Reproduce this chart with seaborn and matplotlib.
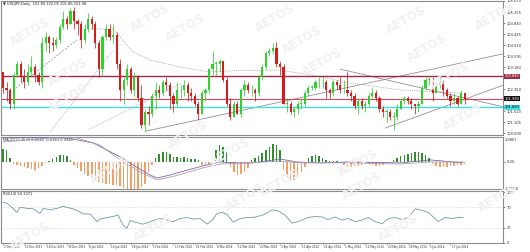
import matplotlib
matplotlib.use("Agg")
import matplotlib.pyplot as plt
import seaborn as sns
import numpy as np
import pandas as pd

sns.set_theme(style="white")
plt.rcParams['font.family'] = ['DejaVu Sans']

# ---------------- data ----------------
opens = [103.0,102.4,102.3,101.8,102.9,103.3,102.8,102.6,103.0,103.2,102.9,102.6,104.1,104.3,104.1,104.0,104.2,104.7,105.0,104.8,
         105.3,104.9,104.8,104.2,104.6,105.0,104.8,104.1,103.1,104.3,104.6,104.3,104.4,103.3,102.3,102.7,103.1,102.3,102.8,102.0,
         101.0,101.5,101.4,102.1,102.3,102.2,102.6,102.5,102.1,101.8,102.3,102.3,102.5,102.2,102.1,101.8,101.4,102.2,102.3,103.1,
         103.3,103.3,103.4,102.7,101.8,101.3,101.8,101.4,102.3,102.5,102.3,102.3,102.2,102.8,103.2,103.7,103.8,103.9,103.3,103.2,
         101.8,101.8,101.5,101.6,101.8,101.8,102.2,102.4,102.4,102.6,102.6,102.6,102.3,102.2,102.6,102.5,102.3,102.3,102.2,102.1,
         101.7,101.9,101.7,101.8,102.1,102.2,102.0,101.6,101.5,101.5,101.3,101.3,101.6,101.9,102.0,101.9,101.8,101.7,101.8,102.4,
         102.7,102.7,102.2,102.5,102.6,102.3,102.1,101.9,102.0,101.8,102.2]
highs = [103.0,102.6,102.4,103.0,103.4,103.4,103.1,103.3,103.6,103.3,103.0,104.3,104.5,104.4,104.3,104.3,104.8,105.3,105.1,105.4,
         105.44,105.0,104.9,104.8,105.2,105.1,104.9,104.2,104.4,104.8,104.8,104.8,104.5,103.5,102.8,103.3,103.2,103.0,102.9,102.5,
         101.6,101.7,102.2,102.6,102.5,102.7,102.8,102.6,102.2,102.6,102.5,102.7,102.6,102.4,102.2,101.9,102.3,102.4,103.1,103.8,
         103.4,103.5,103.4,102.8,102.0,101.9,101.9,102.4,102.7,102.6,102.5,102.4,102.9,103.3,103.8,103.9,104.1,104.13,103.4,103.3,
         102.0,101.9,101.7,101.9,102.0,102.3,102.5,102.5,102.7,102.8,102.8,102.7,102.4,102.7,102.7,102.8,102.7,103.0,102.3,102.2,
         102.0,102.0,101.9,102.2,102.4,102.3,102.1,101.7,101.6,101.6,101.5,101.8,102.0,102.1,102.1,102.0,101.8,101.9,102.5,102.8,
         102.8,102.8,102.6,102.8,102.7,102.4,102.2,102.2,102.1,102.3,102.2]
lows = [102.2,101.9,101.6,101.6,102.8,102.6,102.4,102.5,102.9,102.6,102.5,102.4,103.8,103.7,103.8,103.9,104.1,104.6,104.6,104.8,
        104.6,104.4,103.9,104.1,104.5,104.6,103.9,102.8,102.9,104.2,104.2,104.1,103.1,101.9,101.8,102.5,102.2,102.1,101.9,100.9,
        100.76,101.0,101.3,101.6,102.0,102.1,102.3,101.6,101.5,101.7,102.0,102.1,101.9,101.9,101.7,101.2,101.4,101.9,102.2,102.9,
        102.9,103.0,102.6,101.7,101.2,101.3,101.4,101.3,102.1,102.2,102.1,101.9,102.1,102.7,103.1,103.6,103.7,103.2,102.9,101.8,
        101.5,101.4,101.3,101.4,101.6,101.7,102.1,102.3,102.3,102.4,102.4,102.0,102.0,102.1,102.3,102.2,102.2,102.1,101.9,101.6,
        101.4,101.6,101.5,101.7,102.0,101.9,101.5,101.3,101.1,101.2,100.82,101.2,101.6,101.8,101.8,101.6,101.4,101.5,101.8,102.3,
        102.5,101.9,102.2,102.4,102.1,102.0,101.7,101.8,101.7,101.8,101.8]
closes = [102.4,102.3,101.8,102.9,103.3,102.8,102.6,103.0,103.2,102.9,102.6,104.1,104.3,104.1,104.0,104.2,104.7,105.0,104.8,105.3,
          104.9,104.8,104.2,104.6,105.0,104.8,104.1,103.1,104.3,104.6,104.3,104.4,103.3,102.3,102.7,103.1,102.3,102.8,102.0,101.0,
          101.5,101.4,102.1,102.3,102.2,102.6,102.5,102.1,101.8,102.3,102.3,102.5,102.2,102.1,101.8,101.4,102.2,102.3,103.1,103.3,
          103.3,103.4,102.7,101.8,101.3,101.8,101.4,102.3,102.5,102.3,102.3,102.2,102.8,103.2,103.7,103.8,103.9,103.3,103.2,101.8,
          101.8,101.5,101.6,101.8,101.8,102.2,102.4,102.4,102.6,102.6,102.6,102.3,102.2,102.6,102.5,102.3,102.3,102.2,102.1,101.7,
          101.9,101.7,101.8,102.1,102.2,102.0,101.6,101.5,101.5,101.3,101.3,101.6,101.9,102.0,101.9,101.8,101.7,101.8,102.4,102.7,
          102.7,102.2,102.5,102.6,102.3,102.1,101.9,102.0,101.8,102.2,101.98]

date_labels = ["2 Dec 2013", "10 Dec 2013", "18 Dec 2013", "30 Dec 2013", "8 Jan 2014", "16 Jan 2014",
               "28 Jan 2014", "5 Feb 2014", "13 Feb 2014", "21 Feb 2014", "4 Mar 2014", "12 Mar 2014",
               "20 Mar 2014", "3 Apr 2014", "11 Apr 2014", "22 Apr 2014", "1 May 2014", "12 May 2014",
               "20 May 2014", "28 May 2014", "5 Jun 2014", "17 Jun 2014"]

price_ticks = [105.670, 105.255, 104.840, 104.425, 104.010, 103.595, 103.180, 102.765,
               102.350, 101.935, 101.520, 101.105, 100.690]
levels = {"resistance": 102.84, "bid": 101.98, "support": 101.66}
level_colors = {"resistance": "#9e2a45", "bid": "#d94660", "support": "#3fe0e0"}

# trend lines: (bar, price) anchor pairs, drawn from the first anchor to the right edge
trend_lines = [((40, 100.76), (97.7, 102.43)),
               ((107.6, 100.88), (144.8, 102.69)),
               ((95.0, 103.10), (148.4, 101.45))]

# fan segments (dotted / dashed): (bar, price) start and end
fan_segments = [((2.8, 102.31), (20.8, 104.20), "dashed"),
                ((13.2, 100.73), (31.0, 103.80), "dotted"),
                ((23.9, 100.81), (50.0, 102.55), "dotted")]

# slow moving-average (dotted) points
ma_bar = [23.7, 31.0, 32.1, 36.6, 41.4, 49.9, 58.3, 66.0, 78.0, 88.0, 97.7, 111.8, 128.7]
ma_val = [104.61, 104.61, 104.46, 103.75, 103.45, 103.18, 103.00, 103.05, 103.07, 102.85, 102.58, 102.32, 102.20]

# MACD histogram values per bar
macd_hist = [0.57,0.53,0.18,-0.09,-0.13,-0.18,-0.22,-0.26,-0.31,-0.35,-0.26,-0.18,-0.04,0.04,0.13,0.22,0.31,0.31,0.26,0.09,
             -0.13,-0.26,-0.40,-0.53,-0.62,-0.70,-0.79,-0.88,-0.92,-0.97,-0.97,-1.01,-1.01,-1.06,-1.14,-1.19,-1.23,-1.23,-1.19,-1.10,
             -0.97,-0.44,-0.13,0.18,0.35,0.44,0.44,0.35,0.22,0.22,0.18,0.22,0.18,0.13,0.13,0.09,-0.13,-0.13,-0.09,0.26,
             0.53,0.75,0.66,0.44,-0.22,-0.44,-0.57,-0.53,-0.44,-0.26,0.09,0.18,0.26,0.40,0.53,0.66,0.79,0.75,0.53,-0.35,
             -0.66,-0.79,-0.79,-0.66,-0.44,-0.22,0.18,0.26,0.31,0.26,0.18,0.09,0.04,0.04,0.04,0.0,-0.13,-0.22,-0.22,-0.18,
             -0.18,-0.13,-0.09,-0.09,-0.13,-0.18,-0.18,-0.13,-0.09,-0.04,0.09,0.18,0.26,0.31,0.35,0.40,0.44,0.44,0.40,0.31,
             0.18,-0.09,-0.18,-0.22,-0.22,-0.22,-0.18,-0.18,-0.13,-0.13,-0.09]
macd_a_bar = [0,18,25.4,33,36.6,41.4,43.4,47,49.9,56.3,61.1,65.9,70.4,78,82.8,89.3,97.7,111.8,120.3,129.6]
macd_a_val = [1.09,1.05,0.83,0.22,-0.13,-0.57,-0.70,-0.57,-0.44,-0.17,0.0,-0.04,-0.04,0.13,0.0,-0.04,0.0,-0.04,0.09,-0.04]
macd_b_bar = [0,13.2,20.8,27.3,33,38.6,43.4,48.5,56.3,61.1,69.6,78,83.7,97.7,111.8,120.3,129.6]
macd_b_val = [0.87,1.05,1.05,0.74,0.09,-0.44,-0.78,-0.61,-0.26,-0.09,-0.04,0.04,-0.04,-0.04,-0.09,0.0,0.0]

rsi_bar = [0,1.1,2.8,3.9,4.8,6.8,8.5,10.4,11.3,13.2,15.2,16.9,18,19.7,21.7,22.5,24.5,26.5,27.3,29.3,31,32.4,33.8,34.9,35.8,
           37.7,39.4,40.8,42.3,44.2,46.2,47.9,49.9,51.8,53.5,55.5,57.5,58.9,60.3,61.7,63.1,64.8,66.8,68.7,70.4,73.2,74.6,75.8,
           77.5,79.4,81.4,83.1,85.9,87.9,89.9,91.5,93.5,95.5,97.2,99.2,101.1,102.8,104.8,106.8,108.5,110.4,112.4,114.1,116.1,
           118,119.7,121.7,122.5,124.5,126.5,128.2,129.6]
rsi_val = [80,78,68,60,70,68,67,58,68,65,68,72,70,67,61,57,57,42,47,50,52,55,35,29,44,40,37,40,44,48,45,42,48,50,47,48,37,
           45,58,60,56,41,48,50,50,55,60,65,63,55,39,42,50,52,51,46,51,45,48,42,45,50,42,38,48,50,46,50,67,64,60,48,42,50,48,50,50]

# ---------------- figure ----------------
W, H = 530, 252
fig = plt.figure(figsize=(W / 100, H / 100), dpi=100)
fig.patch.set_facecolor("white")
L, Wd = 1 / W, 502 / W
ax = fig.add_axes([L, 1 - 135 / H, Wd, 134 / H])
axm = fig.add_axes([L, 1 - 189 / H, Wd, 52 / H])
axr = fig.add_axes([L, 1 - 243 / H, Wd, 52 / H])

N = len(closes)
idx = np.arange(N)
XL = (-0.56, 140.8)

# faint watermarks
wm_pos = [(30, 32), (150, 18), (68, 72), (185, 28), (275, 18), (302, 40), (322, 62), (406, 20), (427, 48),
          (450, 76), (495, 16), (68, 98), (188, 135), (230, 152), (463, 117), (358, 163), (30, 236),
          (153, 228), (245, 197), (280, 183), (362, 186), (398, 228), (498, 198), (110, 170)]
for (px, py) in wm_pos:
    fig.text(px / W, 1 - py / H, "AETOS", fontsize=8.5, fontweight="bold", color="#f1f1f1",
             rotation=30, ha="center", va="center", zorder=0)

for a in (ax, axm, axr):
    a.set_facecolor("none")
    a.set_xlim(*XL)
    a.set_xticks([])
    a.yaxis.tick_right()
    a.tick_params(axis="y", labelsize=2.6, colors="#333333", length=1.5, width=0.4, pad=1)
    for s in a.spines.values():
        s.set_color("#8c8c8c")
        s.set_linewidth(0.8)

# ---- main panel ----
o = np.array(opens); c = np.array(closes); hi = np.array(highs); lo = np.array(lows)
bull = c >= o
col = np.where(bull, "#2fd12f", "#d71c1c")
ax.vlines(idx, lo, hi, colors=col, linewidth=0.55, zorder=3)
body = np.maximum(np.abs(c - o), 0.025)
ax.bar(idx, body, bottom=np.minimum(o, c), width=0.62, color=col, linewidth=0, zorder=4)

for (b0, p0), (b1, p1) in trend_lines:
    slope = (p1 - p0) / (b1 - b0)
    xe = XL[1]
    ax.plot([b0, xe], [p0, p0 + slope * (xe - b0)], color="#9a8c9a", lw=0.6, zorder=2)
for (b0, p0), (b1, p1), style in fan_segments:
    ls = (0, (3, 2)) if style == "dashed" else (0, (1, 1.5))
    ax.plot([b0, b1], [p0, p1], color="#8a8a8a", lw=0.5, ls=ls, zorder=2)
sns.lineplot(x=ma_bar, y=ma_val, ax=ax, color="#8a8a8a", lw=0.55, linestyle=(0, (1, 1.5)), zorder=2)
for k, v in levels.items():
    ax.axhline(v, color=level_colors[k], lw=1.0 if k != "bid" else 0.8, zorder=2)

ax.set_ylim(100.62, 105.67)
ax.set_xlim(*XL)
ax.set_ylabel("")
shown = [t for t in price_ticks if min(abs(t - v) for v in levels.values()) > 0.12]
ax.set_yticks(shown)
ax.set_yticklabels([f"{t:.3f}" for t in shown])
for k, v in levels.items():
    fc = {"resistance": "#9e2a45", "bid": "#111111", "support": "#3fe0e0"}[k]
    tc = "black" if k == "support" else "white"
    ax.text(1.003, v, f"{v:.3f}", transform=ax.get_yaxis_transform(), fontsize=2.6, color=tc,
            va="center", ha="left", bbox=dict(boxstyle="square,pad=0.12", fc=fc, ec="none"), clip_on=False, zorder=6)
ax.text(0.004, 0.99, "\u25bc USDJPY,Daily  101.89 102.05 101.86 101.98", transform=ax.transAxes,
        fontsize=2.6, color="#222222", va="top", ha="left")

# ---- MACD panel ----
hcol = np.where(np.array(macd_hist) >= 0, "#2f8f2f", "#f3a068")
axm.bar(idx, macd_hist, width=0.42, color=hcol, linewidth=0, zorder=3)
sns.lineplot(x=macd_a_bar, y=macd_a_val, ax=axm, color="#7b6aa5", lw=0.6, zorder=4)
sns.lineplot(x=macd_b_bar, y=macd_b_val, ax=axm, color="#b09ab8", lw=0.6, zorder=4)
axm.set_xlim(*XL)
axm.set_ylim(-1.18, 1.09)
axm.set_yticks([0.0])
axm.set_yticklabels(["0.00"])
axm.text(1.003, 0.985, "1.0867", transform=axm.transAxes, fontsize=2.6, color="#333333", va="top", ha="left")
axm.text(1.003, 0.0, "-1.0950", transform=axm.transAxes, fontsize=2.6, color="#333333", va="center", ha="left")
axm.set_ylabel("")
axm.text(0.004, 0.985, "MACD(12,26,9) 0.0582 -0.0363 0.0945", transform=axm.transAxes,
         fontsize=2.6, color="#222222", va="top", ha="left")

# ---- RSI panel ----
sns.lineplot(x=rsi_bar, y=rsi_val, ax=axr, color="#6f98ac", lw=0.6, zorder=4)
for lvl in (70, 30):
    axr.axhline(lvl, color="#c8c8c8", lw=0.5, ls=(0, (1, 1.5)), zorder=1)
axr.set_xlim(*XL)
axr.set_ylim(0, 102)
axr.set_yticks([100, 70, 30, 0])
axr.set_yticklabels(["100", "70", "30", "0"])
axr.set_ylabel("")
axr.text(0.004, 0.985, "RSI(14) 50.3371", transform=axr.transAxes,
         fontsize=2.6, color="#222222", va="top", ha="left")

# date labels every 6 bars
for i, lab in enumerate(date_labels):
    b = i * 6
    axr.plot([b, b], [-3, 0], color="#8c8c8c", lw=0.4, clip_on=False)
    axr.text(b + 0.3, -4, lab, fontsize=2.0, color="#333333", ha="left", va="top", clip_on=False)

fig.savefig("out.png", dpi=100, facecolor="white")
